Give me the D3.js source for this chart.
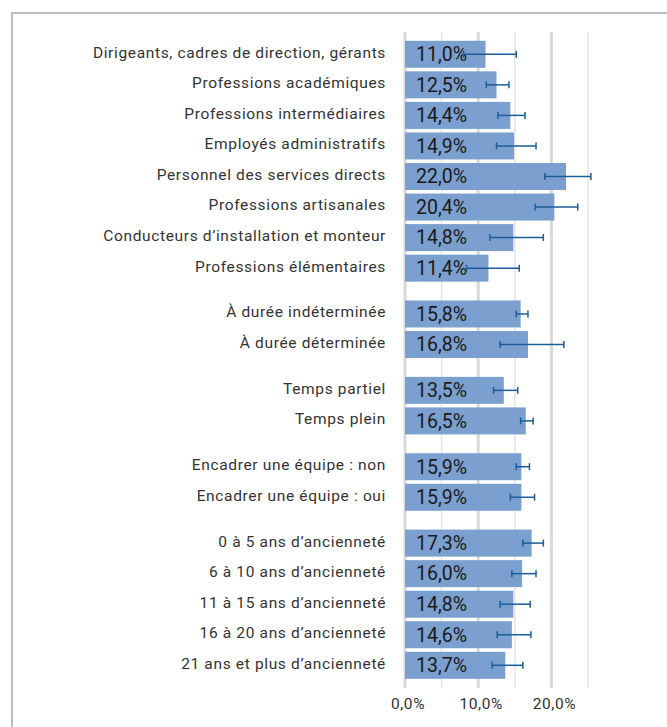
<!DOCTYPE html>
<html>
<head>
<meta charset="utf-8">
<script src="https://cdn.jsdelivr.net/npm/d3@7"></script>
<style>
  body { margin: 0; background: #fff; }
  svg text { font-family: Roboto, "DejaVu Sans", sans-serif; }
</style>
</head>
<body>
<div id="chart"></div>
<script>
// categories, in order, with the group each belongs to
var categories = [
  "Dirigeants, cadres de direction, gérants",
  "Professions académiques",
  "Professions intermédiaires",
  "Employés administratifs",
  "Personnel des services directs",
  "Professions artisanales",
  "Conducteurs d\u2019installation et monteur",
  "Professions élémentaires",
  "À durée indéterminée",
  "À durée déterminée",
  "Temps partiel",
  "Temps plein",
  "Encadrer une équipe : non",
  "Encadrer une équipe : oui",
  "0 à 5 ans d\u2019ancienneté",
  "6 à 10 ans d\u2019ancienneté",
  "11 à 15 ans d\u2019ancienneté",
  "16 à 20 ans d\u2019ancienneté",
  "21 ans et plus d\u2019ancienneté"
];
var groups = [0,0,0,0,0,0,0,0, 1,1, 2,2, 3,3, 4,4,4,4,4];

var values  = [11.0, 12.5, 14.4, 14.9, 22.0, 20.4, 14.8, 11.4, 15.8, 16.8, 13.5, 16.5, 15.9, 15.9, 17.3, 16.0, 14.8, 14.6, 13.7];
var errLow  = [8.0, 11.1, 12.7, 12.5, 19.1, 17.8, 11.6, 8.4, 15.2, 13.0, 12.1, 15.8, 15.2, 14.4, 16.1, 14.6, 13.0, 12.6, 11.9];
var errHigh = [15.2, 14.2, 16.4, 17.9, 25.4, 23.6, 18.9, 15.6, 16.8, 21.7, 15.4, 17.5, 17.0, 17.7, 18.9, 17.9, 17.1, 17.2, 16.1];

var gridTicks = [0, 5, 10, 15, 20, 25];
var labelTicks = [0, 10, 20];

var width = 667, height = 727;

var svg = d3.select("#chart").append("svg")
    .attr("width", width)
    .attr("height", height);

// frame around the chart
svg.append("path")
    .attr("d", "M12," + (height + 5) + "V13H" + (width + 5))
    .attr("fill", "none")
    .attr("stroke", "#bdbdbd")
    .attr("stroke-width", 2);

var fmt = function(v) { return d3.format(".1f")(v).replace(".", ",") + "%"; };

var x = d3.scaleLinear()
    .domain([0, 25])
    .range([405, 588]);

// slot position: one per row, plus half a slot between groups
var slot = categories.map(function(d, i) { return i + groups[i] * 0.5; });
var y = d3.scaleLinear()
    .domain([0, d3.max(slot)])
    .range([54.3, 665.3]);

var barH = 27;

// gridlines
svg.append("g").selectAll("line")
    .data(gridTicks)
    .enter().append("line")
    .attr("x1", function(d) { return x(d); })
    .attr("x2", function(d) { return x(d); })
    .attr("y1", 32)
    .attr("y2", 688)
    .attr("stroke", function(d) { return d % 10 === 0 ? "#d9d9d9" : "#e4e4e4"; })
    .attr("stroke-width", function(d) { return d % 10 === 0 ? 3 : 1.5; });

// bars
svg.append("g").selectAll("rect")
    .data(values)
    .enter().append("rect")
    .attr("x", x(0))
    .attr("y", function(d, i) { return y(slot[i]) - barH / 2; })
    .attr("width", function(d) { return x(d) - x(0); })
    .attr("height", barH)
    .attr("fill", "#7b9fce");

// value labels inside bars
svg.append("g").selectAll("text")
    .data(values)
    .enter().append("text")
    .attr("x", x(0) + 11)
    .attr("y", function(d, i) { return y(slot[i]); })
    .attr("dy", "0.35em")
    .attr("font-size", 19.5)
    .attr("fill", "#1a1a1a")
    .text(fmt);

// error bars
var err = svg.append("g")
    .attr("stroke", "#1c5c98")
    .attr("stroke-width", 1.5)
    .selectAll("g")
    .data(values)
    .enter().append("g");

err.append("line")
    .attr("x1", function(d, i) { return x(errLow[i]); })
    .attr("x2", function(d, i) { return x(errHigh[i]); })
    .attr("y1", function(d, i) { return y(slot[i]); })
    .attr("y2", function(d, i) { return y(slot[i]); });

[errLow, errHigh].forEach(function(arr) {
  err.append("line")
      .attr("x1", function(d, i) { return x(arr[i]); })
      .attr("x2", function(d, i) { return x(arr[i]); })
      .attr("y1", function(d, i) { return y(slot[i]) - 3.5; })
      .attr("y2", function(d, i) { return y(slot[i]) + 3.5; });
});

// category labels
svg.append("g").selectAll("text")
    .data(categories)
    .enter().append("text")
    .attr("x", 386)
    .attr("y", function(d, i) { return y(slot[i]) - 2; })
    .attr("dy", "0.35em")
    .attr("text-anchor", "end")
    .attr("font-size", 15.5)
    .attr("letter-spacing", 0.65)
    .attr("fill", "#333")
    .text(function(d) { return d; });

// x axis labels
svg.append("g").selectAll("text")
    .data(labelTicks)
    .enter().append("text")
    .attr("x", function(d) { return x(d) + 3; })
    .attr("y", 704)
    .attr("dy", "0.35em")
    .attr("text-anchor", "middle")
    .attr("font-size", 15.5)
    .attr("letter-spacing", 0.6)
    .attr("fill", "#333")
    .text(fmt);
</script>
</body>
</html>
